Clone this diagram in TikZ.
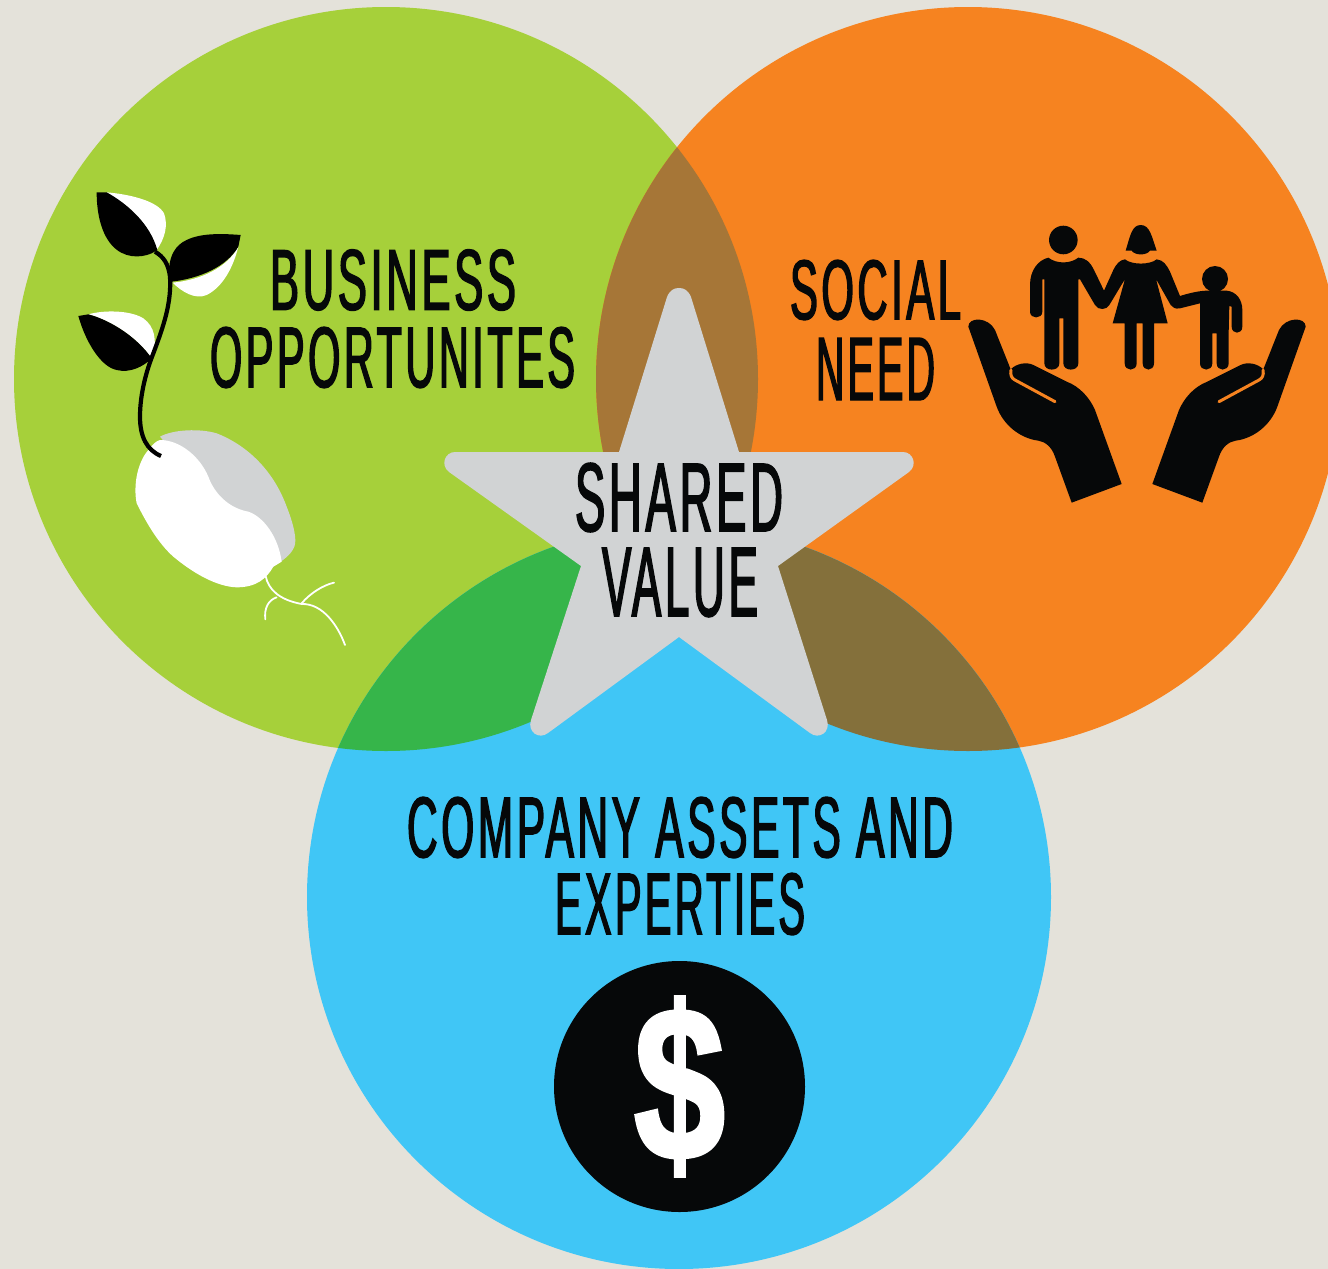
\documentclass[tikz,border=0pt]{standalone}
\usepackage{fontspec}
\usepackage{graphicx}
\setmainfont{Liberation Sans}
\newfontfamily\condfont[FakeStretch=0.48,FakeBold=1.6,LetterSpace=4]{Liberation Sans}
\newfontfamily\moneyfont[FakeBold=2.0]{Liberation Sans Bold}
\definecolor{paper}{HTML}{E4E2DA}
\definecolor{cgreen}{HTML}{A6D03A}
\definecolor{corange}{HTML}{F68320}
\definecolor{cblue}{HTML}{40C6F6}
\definecolor{mixgo}{HTML}{A67637}
\definecolor{mixgb}{HTML}{36B54A}
\definecolor{mixob}{HTML}{84703B}
\definecolor{cstar}{HTML}{D1D3D4}
\definecolor{ink}{HTML}{060809}
\newcommand{\fitline}[3]{\resizebox*{#1pt}{#2pt}{\fontsize{85}{85}\condfont #3}}
\tikzset{
  label text/.style={inner sep=0pt,outer sep=0pt,text=ink,anchor=center},
  zoomleft/.style={shift={(60,170)},x=0.33333pt,y=-0.33333pt},
  zoomfam/.style={shift={(950,210)},x=0.33333pt,y=-0.33333pt},
  zoommirror/.style={shift={(1324,210)},x=-0.33333pt,y=-0.33333pt},
}
\newcommand{\handshape}{%
  \fill[ink] (55,350) .. controls (55,320) and (115,320) .. (135,360) -- (182,478)
    .. controls (200,460) and (230,455) .. (250,465) -- (350,515)
    .. controls (390,530) and (420,565) .. (435,600) -- (515,822) -- (365,878) -- (315,740)
    .. controls (305,710) and (285,695) .. (265,692)
    .. controls (210,685) and (160,645) .. (140,590) -- cycle;
  \draw[corange,line width=3pt,line cap=round] (183,480) .. controls (180,495) and (185,505) .. (195,510) -- (315,575);
}
\begin{document}
\begin{tikzpicture}[x=1pt,y=-1pt]
\useasboundingbox (0,0) rectangle (1328,1269);
\clip (0,0) rectangle (1328,1269);
\fill[paper] (0,0) rectangle (1328,1269);
% circles
\fill[cgreen] (386,379) circle (372pt);
\fill[corange] (968,379) circle (372pt);
\fill[cblue] (679,897) circle (372pt);
% overlaps
\begin{scope}
  \clip (386,379) circle (372pt);
  \fill[mixgo] (968,379) circle (372pt);
\end{scope}
\begin{scope}
  \clip (679,897) circle (372pt);
  \fill[mixgb] (386,379) circle (372pt);
\end{scope}
\begin{scope}
  \clip (679,897) circle (372pt);
  \fill[mixob] (968,379) circle (372pt);
\end{scope}
% star
\fill[cstar] (619,452) -- (667,297) .. controls (670,290) and (674,288) .. (679,288)
  .. controls (684,288) and (688,290) .. (691,297) -- (739,452) -- (903,452)
  .. controls (913,452) and (918,465) .. (909,472) -- (778,566) -- (827,720)
  .. controls (831,732) and (819,740) .. (810,733) -- (679,637) -- (548,733)
  .. controls (539,740) and (527,732) .. (531,720) -- (581,566) -- (449,472)
  .. controls (440,465) and (445,452) .. (455,452) -- cycle;
% labels
\node[label text] (business) at (393,280) {\fitline{246}{61}{BUSINESS}};
\node[label text] (opportunites) at (392.5,357.5) {\fitline{365}{61}{OPPORTUNITES}};
\node[label text] (social) at (875.5,290) {\fitline{171}{60}{SOCIAL}};
\node[label text] (need) at (875.5,369) {\fitline{119}{62}{NEED}};
\node[label text] (shared) at (679,497.5) {\fitline{208}{69}{SHARED}};
\node[label text] (value) at (680,582.5) {\fitline{156}{69}{VALUE}};
\node[label text] (company) at (680,827.5) {\fitline{546}{61}{COMPANY ASSETS AND}};
\node[label text] (experties) at (680,904) {\fitline{250}{62}{EXPERTIES}};
% dollar badge
\fill[ink] (679.5,1086.5) circle (125.5pt);
\node[inner sep=0pt,outer sep=0pt,text=white] (dollar) at (679.5,1086.5) {\resizebox*{91pt}{178pt}{\moneyfont\$}};
% plant
\begin{scope}[zoomleft]
  \fill[cstar] (300,800) .. controls (340,778) and (420,775) .. (470,790)
    .. controls (560,825) and (640,900) .. (680,1010)
    .. controls (700,1060) and (712,1110) .. (703,1130)
    .. controls (693,1155) and (670,1170) .. (640,1190) -- (560,1100) -- cycle;
  \fill[white] (300,810) .. controls (360,810) and (420,860) .. (445,920)
    .. controls (465,975) and (510,1015) .. (565,1025)
    .. controls (610,1040) and (655,1100) .. (665,1175) -- (640,1190)
    .. controls (620,1225) and (590,1252) .. (530,1252)
    .. controls (470,1250) and (400,1210) .. (340,1160)
    .. controls (295,1120) and (260,1060) .. (230,1000)
    .. controls (220,950) and (230,880) .. (265,840)
    .. controls (275,825) and (290,812) .. (300,810) -- cycle;
  \draw[white,line width=1.8pt,line cap=round] (617,1218) .. controls (625,1260) and (660,1290) .. (725,1302)
    .. controls (790,1300) and (835,1370) .. (855,1425);
  \draw[white,line width=1.8pt,line cap=round] (725,1300) .. controls (750,1270) and (790,1245) .. (822,1238);
  \draw[white,line width=1.8pt,line cap=round] (650,1282) .. controls (625,1290) and (612,1315) .. (616,1348);
  % leaves
  \fill[white] (140,67) .. controls (200,72) and (290,90) .. (312,130)
    .. controls (325,165) and (315,205) .. (290,240) -- cycle;
  \fill[black] (110,67) -- (140,67) .. controls (200,100) and (270,160) .. (292,240) -- (275,250)
    .. controls (240,265) and (190,265) .. (155,225)
    .. controls (120,185) and (110,120) .. (110,67) -- cycle;
  \fill[white] (338,338) .. controls (420,330) and (500,295) .. (535,230)
    .. controls (520,290) and (490,350) .. (440,375)
    .. controls (405,390) and (365,365) .. (338,338) -- cycle;
  \fill[black] (542,195) .. controls (480,190) and (420,190) .. (380,210)
    .. controls (345,225) and (330,260) .. (328,290) -- (335,335)
    .. controls (420,325) and (500,290) .. (535,230) -- cycle;
  \fill[white] (85,433) .. controls (130,420) and (210,420) .. (250,445)
    .. controls (285,470) and (290,510) .. (280,560) -- (275,565)
    .. controls (230,500) and (150,450) .. (85,433) -- cycle;
  \fill[black] (55,438) -- (85,433) .. controls (150,450) and (230,500) .. (275,565)
    .. controls (250,590) and (210,610) .. (170,600)
    .. controls (120,590) and (75,510) .. (55,438) -- cycle;
  % stem
  \draw[black,line width=4.2pt] (303,858) .. controls (260,840) and (240,800) .. (240,740)
    .. controls (240,670) and (260,600) .. (280,550)
    .. controls (310,470) and (335,400) .. (330,320)
    .. controls (325,280) and (310,260) .. (285,245);
\end{scope}
% family
\begin{scope}[zoomfam]
  \fill[ink] (340,90) circle (14.3pt);
  \fill[ink] (795,207) circle (13pt);
  \fill[ink] (527,122) .. controls (540,80) and (545,45) .. (572,45)
    .. controls (600,45) and (605,80) .. (620,122) -- (600,122)
    .. controls (590,137) and (555,137) .. (545,122) -- cycle;
  \fill[ink] (240,305) -- (240,225) .. controls (240,180) and (265,150) .. (295,143)
    .. controls (320,162) and (360,162) .. (385,143)
    .. controls (405,143) and (420,155) .. (432,180) -- (462,242)
    -- (490,180) .. controls (500,160) and (510,150) .. (525,148)
    .. controls (545,165) and (600,165) .. (620,148)
    .. controls (640,150) and (650,165) .. (660,185) -- (690,258)
    .. controls (715,250) and (745,243) .. (768,242) -- (830,242)
    .. controls (860,245) and (877,270) .. (877,300) -- (877,350)
    .. controls (877,374) and (845,374) .. (845,350) -- (845,290) -- (838,288) -- (836,368) -- (836,460)
    .. controls (836,485) and (800,485) .. (800,460) -- (800,370) -- (787,370) -- (787,460)
    .. controls (787,485) and (750,485) .. (750,460) -- (750,280) -- (690,295)
    .. controls (675,298) and (668,292) .. (662,285) -- (618,207) -- (653,340) -- (612,340) -- (612,460)
    .. controls (612,485) and (578,485) .. (578,460) -- (578,340) -- (560,340) -- (560,460)
    .. controls (560,485) and (524,485) .. (524,460) -- (524,340) -- (488,340) -- (525,207) -- (478,285)
    .. controls (470,300) and (445,302) .. (435,285) -- (390,208) -- (385,208) -- (385,460)
    .. controls (385,485) and (340,485) .. (340,460) -- (340,325) -- (328,325) -- (328,460)
    .. controls (328,485) and (283,485) .. (283,460) -- (283,208) -- (277,208) -- (277,305)
    .. controls (277,328) and (240,328) .. (240,305) -- cycle;
  \handshape
\end{scope}
\begin{scope}[zoommirror]
  \handshape
\end{scope}
\end{tikzpicture}
\end{document}
